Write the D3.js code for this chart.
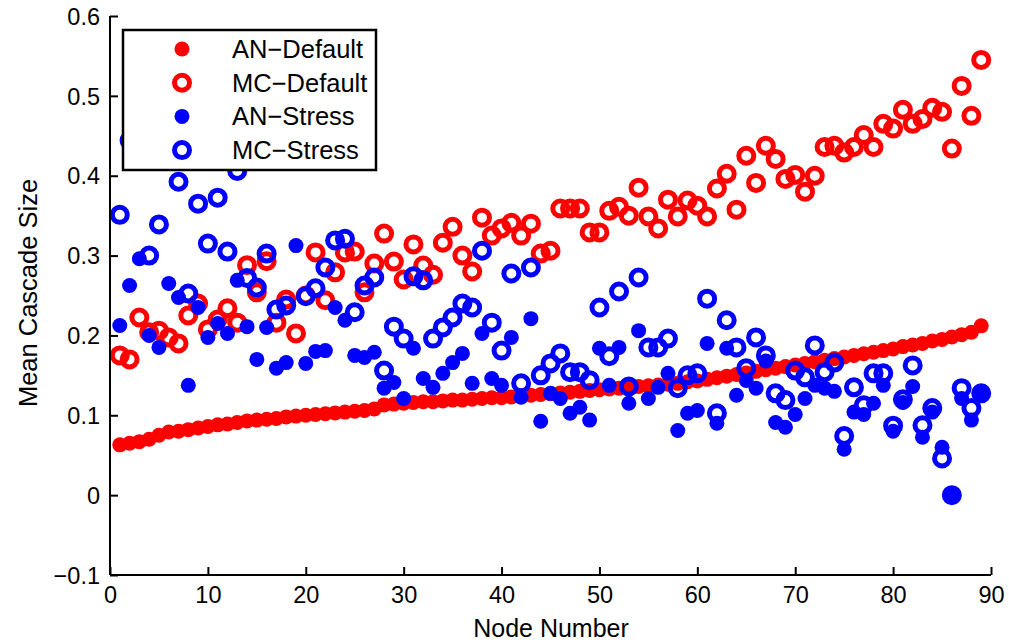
<!DOCTYPE html>
<html>
<head>
<meta charset="utf-8">
<script src="https://cdn.jsdelivr.net/npm/d3@7"></script>
<style>
  html, body { margin: 0; padding: 0; background: #fff; }
  svg { display: block; }
  text { font-family: "Liberation Sans", Arial, Helvetica, sans-serif; fill: #000; }
</style>
</head>
<body>
<svg id="chart" width="1009" height="643"></svg>
<script>
// ---- data ----
const nodes = d3.range(1, 90);
const anDefault = [0.063,0.065,0.067,0.070,0.075,0.079,0.080,0.082,0.084,0.086,
  0.088,0.089,0.091,0.093,0.094,0.095,0.096,0.098,0.099,0.100,
  0.101,0.102,0.103,0.104,0.105,0.106,0.108,0.113,0.114,0.115,
  0.116,0.117,0.117,0.118,0.119,0.119,0.120,0.121,0.122,0.122,
  0.123,0.124,0.125,0.126,0.127,0.128,0.129,0.130,0.131,0.132,
  0.133,0.134,0.135,0.136,0.137,0.138,0.139,0.140,0.142,0.143,
  0.145,0.147,0.149,0.151,0.153,0.155,0.157,0.159,0.161,0.163,
  0.165,0.167,0.169,0.171,0.173,0.175,0.177,0.179,0.181,0.183,
  0.186,0.188,0.190,0.193,0.195,0.198,0.201,0.204,0.212];
const mcDefault = [0.175,0.17,0.2225,0.204,0.206,0.1975,0.19,0.225,0.24,0.2075,
  0.22,0.234,0.216,0.288,0.254,0.293,0.216,0.245,0.2025,0.25,
  0.304,0.244,0.279,0.304,0.305,0.254,0.29,0.3275,0.2925,0.27,
  0.314,0.2875,0.276,0.316,0.336,0.30,0.28,0.3475,0.325,0.334,
  0.341,0.325,0.34,0.3025,0.306,0.359,0.359,0.359,0.329,0.329,
  0.356,0.361,0.35,0.385,0.349,0.334,0.37,0.349,0.369,0.3625,
  0.349,0.384,0.4025,0.3575,0.425,0.391,0.4375,0.421,0.396,0.401,
  0.38,0.40,0.436,0.4375,0.429,0.436,0.451,0.436,0.465,0.459,
  0.4825,0.465,0.471,0.485,0.48,0.434,0.5125,0.475,0.545];
const anStress = [0.2125,0.2625,0.296,0.20,0.185,0.265,0.2475,0.1375,0.235,0.1975,
  0.215,0.2025,0.269,0.211,0.17,0.21,0.159,0.166,0.3125,0.165,
  0.18,0.181,0.235,0.219,0.175,0.1725,0.179,0.134,0.141,0.121,
  0.184,0.146,0.135,0.1525,0.166,0.1775,0.14,0.2025,0.146,0.1375,
  0.1975,0.1225,0.221,0.0925,0.1275,0.121,0.1025,0.11,0.094,0.184,
  0.1375,0.185,0.115,0.206,0.121,0.135,0.1525,0.081,0.1025,0.106,
  0.19,0.09,0.184,0.125,0.1435,0.134,0.168,0.091,0.085,0.101,
  0.121,0.1375,0.134,0.13,0.0575,0.104,0.101,0.115,0.1375,0.08,
  0.116,0.136,0.0725,0.104,0.06,0.0,0.121,0.094,0.125];
const mcStress = [0.351,0.444,0.47,0.30,0.339,0.45,0.3925,0.2525,0.365,0.315,
  0.3725,0.305,0.406,0.272,0.26,0.3025,0.2325,0.2375,0.44,0.249,
  0.259,0.285,0.319,0.321,0.229,0.2625,0.2725,0.156,0.211,0.196,
  0.274,0.269,0.196,0.21,0.2225,0.24,0.235,0.306,0.216,0.181,
  0.2775,0.14,0.285,0.15,0.165,0.1775,0.154,0.154,0.144,0.235,
  0.174,0.255,0.136,0.2725,0.185,0.185,0.196,0.134,0.15,0.1525,
  0.246,0.1025,0.219,0.185,0.159,0.1975,0.175,0.1275,0.119,0.156,
  0.1475,0.1875,0.154,0.166,0.074,0.135,0.1125,0.1525,0.1525,0.087,
  0.12,0.1625,0.0875,0.109,0.046,0.0,0.134,0.109,0.1275];
const xTicks = [0,10,20,30,40,50,60,70,80,90];
const yTicks = [-0.1,0,0.1,0.2,0.3,0.4,0.5,0.6];
const seriesNames = ["AN\u2212Default","MC\u2212Default","AN\u2212Stress","MC\u2212Stress"];

// ---- chart ----
const svg = d3.select("#chart");
const x = d3.scaleLinear().domain([0, 90]).range([110, 991]);
const y = d3.scaleLinear().domain([-0.1, 0.6]).range([575, 16]);

const series = [
  {name: seriesNames[0], values: anDefault, color: "#ff0000", filled: true},
  {name: seriesNames[1], values: mcDefault, color: "#ff0000", filled: false},
  {name: seriesNames[2], values: anStress, color: "#0000ff", filled: true},
  {name: seriesNames[3], values: mcStress, color: "#0000ff", filled: false}
];

function drawMarker(sel, s) {
  if (s.filled) {
    sel.attr("r", 7.5).attr("fill", s.color).attr("stroke", "none");
  } else {
    sel.attr("r", 7.5).attr("fill", "none").attr("stroke", s.color).attr("stroke-width", 5);
  }
}

const plot = svg.append("g");
series.forEach(s => {
  plot.append("g").selectAll("circle")
    .data(nodes.map((n, i) => [n, s.values[i]]))
    .join("circle")
    .attr("cx", d => x(d[0]))
    .attr("cy", d => y(d[1]))
    .call(drawMarker, s);
});

// axes (ticks pointing inward, MATLAB style)
const fmtY = d => (Math.abs(d) < 1e-9 ? "0" : d3.format(".1f")(d)).replace("-", "\u2212");
const fmtX = d => String(d);

const xAxis = svg.append("g").attr("transform", "translate(0,575)")
  .call(d3.axisBottom(x).tickValues(xTicks).tickSize(-8).tickFormat(fmtX));
const yAxis = svg.append("g").attr("transform", "translate(110,0)")
  .call(d3.axisLeft(y).tickValues(yTicks).tickSize(-8).tickFormat(fmtY));

[xAxis, yAxis].forEach(a => {
  a.select(".domain").attr("stroke", "#000").attr("stroke-width", 2);
  a.selectAll(".tick line").attr("stroke", "#000").attr("stroke-width", 2);
  a.selectAll(".tick text").attr("font-size", 23.5).attr("fill", "#000")
    .style("font-family", "'Liberation Sans', Arial, sans-serif");
});
xAxis.selectAll(".tick text").attr("y", 28).attr("dy", 0);
yAxis.selectAll(".tick text").attr("x", -10).attr("dy", "0.35em");
xAxis.select(".domain").attr("d", "M110,0H991");
yAxis.select(".domain").attr("d", "M0,575V16");

// axis labels
svg.append("text").attr("x", 551).attr("y", 637).attr("text-anchor", "middle")
  .attr("font-size", 25).text("Node Number");
svg.append("text").attr("transform", "translate(37,293) rotate(-90)")
  .attr("text-anchor", "middle").attr("font-size", 25.5).text("Mean Cascade Size");

// legend
const lg = svg.append("g");
lg.append("rect").attr("x", 123).attr("y", 30).attr("width", 253).attr("height", 140)
  .attr("fill", "#fff").attr("stroke", "#000").attr("stroke-width", 2.5);
series.forEach((s, i) => {
  const cy = 49 + i * 33.7;
  lg.append("circle").attr("cx", 182).attr("cy", cy).call(drawMarker, s);
  lg.append("text").attr("x", 232).attr("y", cy + 9).attr("font-size", 25.5).text(s.name);
});
</script>
</body>
</html>
